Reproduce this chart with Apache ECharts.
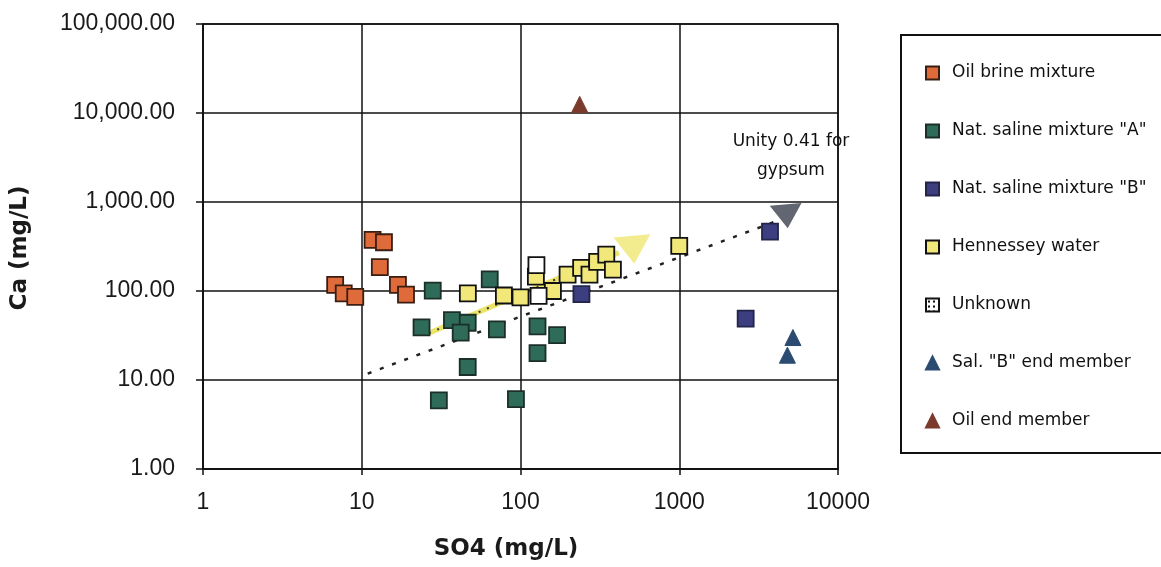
<!DOCTYPE html>
<html>
<head>
<meta charset="utf-8">
<script src="https://cdn.jsdelivr.net/npm/echarts@6/dist/echarts.min.js"></script>
<style>
  html, body { margin: 0; padding: 0; background: #fff; }
  #chart { width: 1161px; height: 567px; }
</style>
</head>
<body>
<div id="chart"></div>
<script>
// SO4 (x) vs Ca (y), both in mg/L
var oilBrine = [[11.7, 375], [13.8, 353], [13.0, 185], [6.8, 117], [7.7, 94], [9.1, 86], [16.9, 117], [19.0, 91]];
var salineA = [[28, 101], [64, 135], [23.8, 39], [37, 47], [46.5, 44], [42, 34], [71, 37], [46.5, 14], [30.6, 5.9], [93.6, 6.1], [128, 40], [170, 32], [128, 20]];
var salineB = [[242, 92], [3730, 464], [2620, 49]];
var hennessey = [[46.6, 94], [78.6, 89], [100, 85], [125, 145], [160, 100], [198, 153], [241, 182], [272, 153], [304, 212], [347, 256], [382, 174], [1000, 322]];
var unknown = [[126, 195], [130, 88]];
var salBEnd = [[5200, 30], [4800, 19]];
var oilEnd = [[236, 12500]];

// trend lines and their arrow heads
var unityLine = [[10.9, 11.8], [4200, 620]];
var unityHead = [[4750, 690]];
var hennesseyTrend = [[26.5, 33.6], [417, 270]];
var hennesseyHead = [[512, 290]];

var xTicks = [1, 10, 100, 1000, 10000];
var yTicks = [1, 10, 100, 1000, 10000, 100000];

var FONT = 'DejaVu Sans';
var TICKFONT = 'Liberation Sans';

function dotPattern() {
  var c = document.createElement('canvas');
  c.width = 5; c.height = 5;
  var g = c.getContext('2d');
  g.fillStyle = '#ffffff';
  g.fillRect(0, 0, 5, 5);
  g.fillStyle = '#111111';
  g.fillRect(2, 2, 2, 2);
  return c;
}

function sq(name, data, fill, border) {
  return {
    name: name, type: 'scatter', data: data,
    symbol: 'rect', symbolSize: 16, z: 5,
    itemStyle: { color: fill, borderColor: border, borderWidth: 1.8, opacity: 1 }
  };
}
function tri(name, data, fill) {
  return {
    name: name, type: 'scatter', data: data,
    symbol: 'triangle', symbolSize: [16, 16], z: 5,
    itemStyle: { color: fill, borderColor: fill, borderWidth: 1, opacity: 1 }
  };
}

var myChart = echarts.init(document.getElementById('chart'));

var option = {
  backgroundColor: '#ffffff',
  animation: false,
  grid: { left: 203, right: 323, top: 24, bottom: 98, show: true, borderColor: '#111', borderWidth: 1.5 },
  xAxis: {
    type: 'log', logBase: 10, min: xTicks[0], max: xTicks[xTicks.length - 1],
    axisLine: { lineStyle: { color: '#111', width: 1.5 } },
    axisTick: { show: true, length: 6, lineStyle: { color: '#111', width: 1.5 } },
    axisLabel: { color: '#1a1a1a', fontFamily: TICKFONT, fontSize: 23, margin: 22,
      formatter: function (v) { return String(Math.round(v)); } },
    splitLine: { show: true, lineStyle: { color: '#111', width: 1.5 } }
  },
  yAxis: {
    type: 'log', logBase: 10, min: yTicks[0], max: yTicks[yTicks.length - 1],
    axisLine: { lineStyle: { color: '#111', width: 1.5 } },
    axisTick: { show: true, length: 7, lineStyle: { color: '#111', width: 1.5 } },
    axisLabel: {
      color: '#1a1a1a', fontFamily: TICKFONT, fontSize: 23, margin: 28,
      formatter: function (v) {
        return Number(v).toLocaleString('en-US', { minimumFractionDigits: 2, maximumFractionDigits: 2 });
      }
    },
    splitLine: { show: true, lineStyle: { color: '#111', width: 1.5 } }
  },
  legend: {
    orient: 'vertical', left: 925, top: 63, padding: 0,
    itemWidth: 13, itemHeight: 13, itemGap: 38, selectedMode: false,
    textStyle: { fontFamily: FONT, fontSize: 17, color: '#111', lineHeight: 20, padding: [0, 0, 0, 8] },
    data: ['Oil brine mixture', 'Nat. saline mixture "A"', 'Nat. saline mixture "B"', 'Hennessey water', 'Unknown', 'Sal. "B" end member', 'Oil end member']
  },
  graphic: [
    { type: 'rect', z: -1, shape: { x: 901, y: 35, width: 300, height: 418 }, style: { fill: '#fff', stroke: '#111', lineWidth: 2 } },
    { type: 'text', x: 20, y: 248, rotation: Math.PI / 2,
      style: { text: 'Ca (mg/L)', fontFamily: FONT, fontWeight: 'bold', fontSize: 23, fill: '#1a1a1a', textAlign: 'center', textVerticalAlign: 'middle' } },
    { type: 'text', x: 506, y: 549,
      style: { text: 'SO4 (mg/L)', fontFamily: FONT, fontWeight: 'bold', fontSize: 23, fill: '#1a1a1a', textAlign: 'center', textVerticalAlign: 'middle' } },
    { type: 'text', x: 791, y: 156, z: 10,
      style: { text: 'Unity 0.41 for\ngypsum', fontFamily: FONT, fontSize: 17, lineHeight: 29, fill: '#111', textAlign: 'center', textVerticalAlign: 'middle' } }
  ],
  series: [
    { name: 'hennesseyTrend', type: 'line', data: hennesseyTrend, symbol: 'none', z: 2,
      lineStyle: { color: '#ece46a', width: 5, type: 'solid' } },
    { name: 'hennesseyTrendDots', type: 'line', data: hennesseyTrend, symbol: 'none', z: 3,
      lineStyle: { color: '#333', width: 2, type: [2, 7] } },
    { name: 'hennesseyHead', type: 'scatter', data: hennesseyHead, symbol: 'triangle', symbolSize: [37, 28], symbolRotate: 185, z: 4,
      itemStyle: { color: '#efe772' } },
    { name: 'unityLine', type: 'line', data: unityLine, symbol: 'none', z: 3,
      lineStyle: { color: '#222', width: 2.5, type: [4, 9] } },
    { name: 'unityHead', type: 'scatter', data: unityHead, symbol: 'triangle', symbolSize: [32, 24], symbolRotate: 185, z: 4,
      itemStyle: { color: '#3b404e' } },
    sq('Oil brine mixture', oilBrine, '#df6a3a', '#3a1e12'),
    sq('Nat. saline mixture "A"', salineA, '#2e6b58', '#1c2e28'),
    sq('Nat. saline mixture "B"', salineB, '#3d3e80', '#23244a'),
    sq('Hennessey water', hennessey, '#f2e87a', '#111111'),
    sq('Unknown', unknown, { image: dotPattern(), repeat: 'repeat' }, '#111111'),
    tri('Sal. "B" end member', salBEnd, '#2b4b70'),
    tri('Oil end member', oilEnd, '#7b3b2c')
  ]
};

myChart.setOption(option);
</script>
</body>
</html>
